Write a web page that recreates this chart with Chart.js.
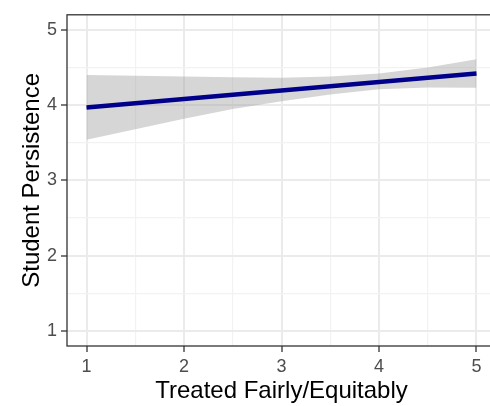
<!DOCTYPE html>
<html>
<head>
<meta charset="utf-8">
<script src="https://cdn.jsdelivr.net/npm/chart.js@4.4.0/dist/chart.umd.min.js"></script>
<style>
  html, body { margin: 0; padding: 0; background: #fff; overflow: hidden; }
  canvas { display: block; }
</style>
</head>
<body>
<canvas id="chartCanvas" width="496" height="406"></canvas>
<script>
// Linear fit of persistence on fairness, with its confidence band
const fitX = [1, 5];
const fitY = [3.97, 4.42];

const bandX = [1, 1.5, 2, 2.5, 3, 3.5, 4, 4.5, 5];
const bandUpper = [4.40, 4.39, 4.38, 4.37, 4.365, 4.38, 4.42, 4.50, 4.61];
const bandLower = [3.54, 3.68, 3.82, 3.95, 4.05, 4.14, 4.21, 4.235, 4.23];

// Axis breaks (labelled majors, unlabelled minors)
const majorTicks = [1, 2, 3, 4, 5];
const minorTicks = [1.5, 2.5, 3.5, 4.5];

const FONT = '"Liberation Sans", Arial, Helvetica, sans-serif';

const toPoints = (xs, ys) => xs.map((x, i) => ({ x: x, y: ys[i] }));
const isMajor = v => majorTicks.includes(v);

function setBreaks(scale) {
  scale.ticks = majorTicks.concat(minorTicks)
    .sort((a, b) => a - b)
    .map(v => ({ value: v }));
}

const gridOpts = {
  color: ctx => isMajor(ctx.tick && ctx.tick.value) ? '#ebebeb' : '#f2f2f2',
  lineWidth: ctx => isMajor(ctx.tick && ctx.tick.value) ? 2 : 1.2,
  tickColor: ctx => isMajor(ctx.tick && ctx.tick.value) ? '#333333' : 'rgba(0,0,0,0)',
  tickWidth: 1.3,
  tickLength: 6,
  drawTicks: true
};

const tickOpts = {
  color: '#4d4d4d',
  font: { family: FONT, size: 18 },
  padding: 4,
  autoSkip: false,
  maxRotation: 0,
  callback: v => isMajor(v) ? String(v) : ''
};

// ggplot-style panel border drawn over everything
const panelBorder = {
  id: 'panelBorder',
  afterDraw(chart) {
    const { ctx, chartArea: a } = chart;
    ctx.save();
    ctx.strokeStyle = '#333333';
    ctx.lineWidth = 1.3;
    ctx.strokeRect(a.left, a.top, a.right - a.left, a.bottom - a.top);
    ctx.restore();
  }
};

new Chart(document.getElementById('chartCanvas'), {
  type: 'line',
  data: {
    datasets: [
      {
        label: 'fit',
        data: toPoints(fitX, fitY),
        borderColor: '#00008b',
        borderWidth: 4.5,
        pointRadius: 0,
        fill: false,
        order: 0
      },
      {
        label: 'upper',
        data: toPoints(bandX, bandUpper),
        borderWidth: 0,
        borderColor: 'rgba(0,0,0,0)',
        backgroundColor: 'rgba(153,153,153,0.4)',
        pointRadius: 0,
        fill: '+1',
        order: 1
      },
      {
        label: 'lower',
        data: toPoints(bandX, bandLower),
        borderWidth: 0,
        borderColor: 'rgba(0,0,0,0)',
        pointRadius: 0,
        fill: false,
        order: 2
      }
    ]
  },
  options: {
    responsive: false,
    animation: false,
    layout: { padding: { left: 0, top: 10, right: 0, bottom: 0 } },
    plugins: {
      legend: { display: false },
      tooltip: { enabled: false }
    },
    scales: {
      x: {
        type: 'linear',
        min: 0.8,
        max: 5.2,
        afterBuildTicks: setBreaks,
        afterFit: s => { s.height = 60; },
        grid: gridOpts,
        border: { display: false },
        ticks: tickOpts,
        title: {
          display: true,
          text: 'Treated Fairly/Equitably',
          color: '#000000',
          font: { family: FONT, size: 24 },
          padding: { top: 0, bottom: 0 }
        }
      },
      y: {
        type: 'linear',
        min: 0.8,
        max: 5.2,
        afterBuildTicks: setBreaks,
        afterFit: s => { s.width = 67; },
        grid: gridOpts,
        border: { display: false },
        ticks: tickOpts,
        title: {
          display: true,
          text: 'Student Persistence',
          color: '#000000',
          font: { family: FONT, size: 24 },
          padding: { top: 18, bottom: 0 }
        }
      }
    }
  },
  plugins: [panelBorder]
});
</script>
</body>
</html>
